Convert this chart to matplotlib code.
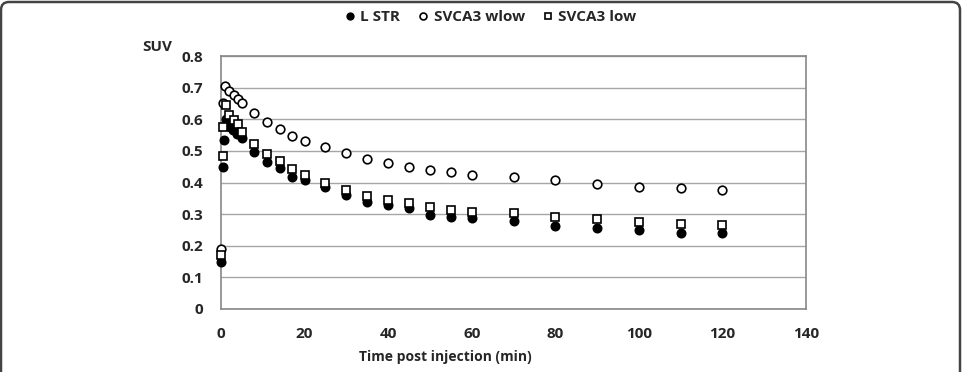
import matplotlib.pyplot as plt
import matplotlib.patches as mpatches
from matplotlib.transforms import IdentityTransform

plt.rcParams['font.family'] = ['Open Sans', 'DejaVu Sans']

# time points (min)
t_lstr = [0, 0.4, 0.6, 1.3, 2.1, 2.9, 3.9, 5, 8, 11, 14, 17, 20, 25, 30, 35, 40, 45,
          50, 55, 60, 70, 80, 90, 100, 110, 120]
t_wlow = [0, 0.5, 1, 2, 3, 4, 5, 8, 11, 14, 17, 20, 25, 30, 35, 40, 45,
          50, 55, 60, 70, 80, 90, 100, 110, 120]
t_low = [0, 0.4, 0.4, 1.1, 2, 3, 4, 5, 8, 11, 14, 17, 20, 25, 30, 35, 40, 45,
         50, 55, 60, 70, 80, 90, 100, 110, 120]

suv_lstr = [0.15, 0.45, 0.535, 0.600, 0.577, 0.566, 0.552, 0.540, 0.497, 0.466, 0.445,
            0.418, 0.407, 0.386, 0.360, 0.338, 0.328, 0.320, 0.297, 0.292, 0.287,
            0.277, 0.263, 0.257, 0.249, 0.241, 0.239]
suv_wlow = [0.19, 0.650, 0.706, 0.690, 0.677, 0.665, 0.652, 0.621, 0.592, 0.570, 0.547,
            0.530, 0.513, 0.493, 0.475, 0.461, 0.449, 0.439, 0.432, 0.424,
            0.417, 0.407, 0.395, 0.387, 0.382, 0.375]
suv_low = [0.17, 0.484, 0.577, 0.646, 0.614, 0.598, 0.584, 0.561, 0.522, 0.491, 0.468,
           0.442, 0.423, 0.399, 0.375, 0.358, 0.345, 0.334, 0.323, 0.313, 0.308,
           0.303, 0.292, 0.284, 0.274, 0.269, 0.266]

txt = '#262626'
fig = plt.figure(figsize=(9.65, 3.72), dpi=100)
ax = fig.add_axes([221/965, 1 - 309/372, 585/965, 253/372])

ax.plot(t_lstr, suv_lstr, 'o', ms=6.2, color='black', mec='black', label='L STR',
        zorder=3, clip_on=False)
ax.plot(t_wlow, suv_wlow, 'o', ms=6.2, mfc='white', mec='black', mew=1.2,
        label='SVCA3 wlow', zorder=3, clip_on=False)
ax.plot(t_low, suv_low, 's', ms=5.8, mfc='white', mec='black', mew=1.2,
        label='SVCA3 low', zorder=4, clip_on=False)

ax.set_xlim(0, 140)
ax.set_ylim(0, 0.8)
ax.set_xticks(range(0, 141, 20))
ax.set_yticks([i / 10 for i in range(9)])
ax.set_yticklabels(['0'] + ['%.1f' % (i / 10) for i in range(1, 9)])
ax.grid(axis='y', color='#a6a6a6', lw=1)
ax.set_axisbelow(True)
for s in ax.spines.values():
    s.set_color('#888888')
    s.set_linewidth(1.2)
ax.tick_params(length=0, pad=13, labelsize=11, labelcolor=txt)
for lab in ax.get_xticklabels() + ax.get_yticklabels():
    lab.set_fontweight('bold')

fig.text(445/965, 1 - 357/372, 'Time post injection (min)', ha='center', va='center',
         fontsize=10, fontweight='bold', color=txt)
fig.text(157/965, 1 - 47/372, 'SUV', ha='center', va='center',
         fontsize=11, fontweight='bold', color=txt)

fig.legend(loc='center', bbox_to_anchor=(490/965, 1 - 17/372), ncol=3, frameon=False,
           markerscale=0.8, handlelength=0.8, handletextpad=0.3, columnspacing=1.1,
           prop={'size': 11, 'weight': 'bold'}, labelcolor=txt)

# card border
border = mpatches.FancyBboxPatch((1, -30), 959, 400, boxstyle='round,pad=0,rounding_size=8',
                                 transform=IdentityTransform(), fill=False,
                                 ec='#444444', lw=1.8)
fig.patches.append(border)

fig.savefig('out.png', dpi=100)
